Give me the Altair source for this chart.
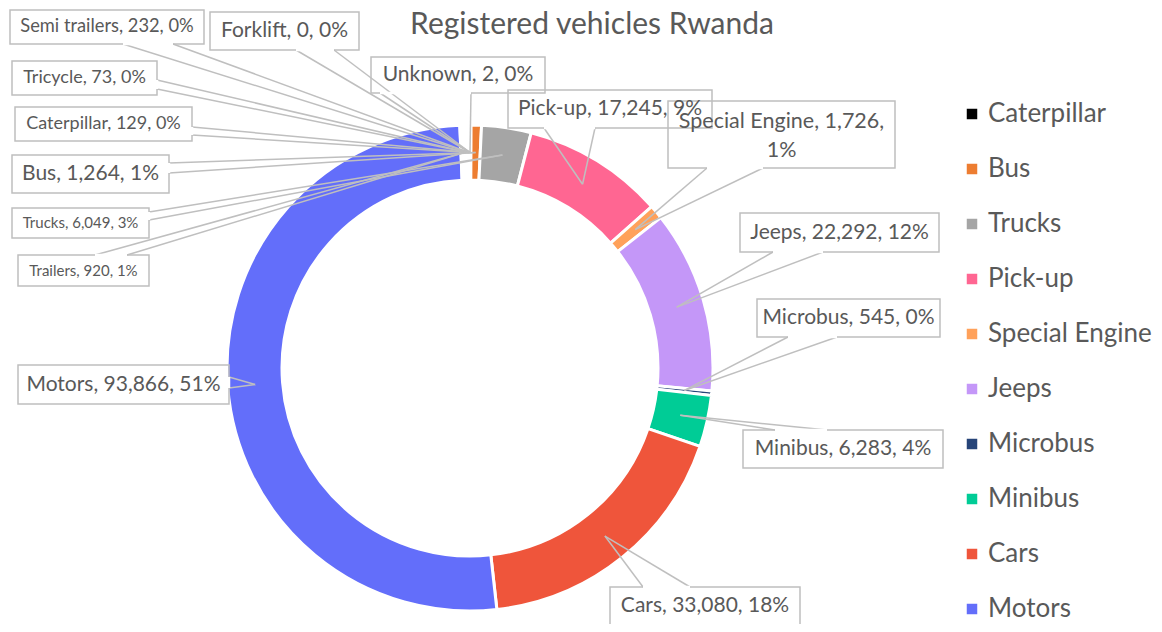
import altair as alt
import pandas as pd
import numpy as np

# ---------------- data ----------------
categories = ["Caterpillar", "Bus", "Trucks", "Pick-up", "Special Engine", "Jeeps",
              "Microbus", "Minibus", "Cars", "Motors",
              "Trailers", "Tricycle", "Semi trailers", "Forklift", "Unknown"]
values = [129, 1264, 6049, 17245, 1726, 22292, 545, 6283, 33080, 93866,
          920, 73, 232, 0, 2]
pct_labels = [0, 1, 3, 9, 1, 12, 0, 4, 18, 51, 1, 0, 0, 0, 0]
legend_items = categories[:10]

# ---------------- styles ----------------
colors = ["#000000", "#ED7D31", "#A5A5A5", "#FF6692", "#FFA15A", "#C497F8",
          "#264478", "#00CC96", "#EF553B", "#636EFA",
          "#FFFFFF", "#FFFFFF", "#FFFFFF", "#FFFFFF", "#FFFFFF"]
FONT = "Lato"
TXT = "#595959"
LINE = "#BFBFBF"
LINE_H = 29

OFF = 8
CX, CY = 470 - OFF, 368 - OFF
R_OUT, R_IN = 243, 188
R_TIP = (R_OUT + R_IN) / 2

# callout layout (page pixels): box, wedge base point 1, wedge base point 2, font size, wrap
layout = {
    "Caterpillar":    ((15, 107, 192, 141), (192, 127), (192, 135), 18, False),
    "Bus":            ((12, 155, 169, 193), (169, 163), (169, 173), 21, False),
    "Trucks":         ((12, 208, 149, 238), (149, 212), (149, 220), 15, False),
    "Pick-up":        ((508, 90, 712, 128), (544, 128), (595, 128), 21, False),
    "Special Engine": ((668, 101, 895, 168), (707, 168), (763, 168), 21.5, True),
    "Jeeps":          ((740, 213, 939, 252), (773, 252), (823, 252), 21, False),
    "Microbus":       ((757, 299, 940, 337), (788, 337), (837, 337), 21, False),
    "Minibus":        ((743, 430, 943, 468), (775, 430), (827, 430), 21, False),
    "Cars":           ((610, 587, 800, 625), (643, 587), (690, 587), 21, False),
    "Motors":         ((18, 365, 229, 404), (229, 377), (229, 388), 21, False),
    "Trailers":       ((18, 255, 149, 286), (95, 255), (127, 255), 15, False),
    "Tricycle":       ((12, 61, 157, 95), (157, 80), (157, 89), 18, False),
    "Semi trailers":  ((10, 10, 204, 44), (123, 44), (173, 44), 18.3, False),
    "Forklift":       ((210, 12, 359, 50), (296, 50), (334, 50), 21, False),
    "Unknown":        ((371, 57, 545, 93), (380, 93), (471, 93), 21, False),
}

# ---------------- tables ----------------
df = pd.DataFrame({"category": categories, "value": values, "pct": pct_labels})
df["idx"] = range(len(df))
total = df["value"].sum()
mid = (df["value"].cumsum() - df["value"] / 2) / total * 2 * np.pi
df["tx"] = CX + R_TIP * np.sin(mid)
df["ty"] = CY - R_TIP * np.cos(mid)

rule_rows, erase_rows, box_rows = [], [], []
for _, r in df.iterrows():
    (x0, y0, x1, y1), b1, b2, fs, wrap = layout[r["category"]]
    for b in (b1, b2):
        rule_rows.append({"x": b[0] - OFF, "y": b[1] - OFF, "x2": r["tx"], "y2": r["ty"]})
    erase_rows.append({"x": b1[0] - OFF, "y": b1[1] - OFF, "x2": b2[0] - OFF, "y2": b2[1] - OFF})
    head = f"{r['category']}, {r['value']:,},"
    label = f"{head}\n{r['pct']}%" if wrap else f"{head} {r['pct']}%"
    nlines = label.count("\n") + 1
    box_rows.append({"x0": x0 - OFF, "y0": y0 - OFF, "x1": x1 - OFF, "y1": y1 - OFF,
                     "cx": (x0 + x1) / 2 - OFF,
                     "cy": (y0 + y1) / 2 - OFF - (nlines - 1) * (LINE_H / 2 - 2),
                     "fs": fs, "label": label})
rules_df = pd.DataFrame(rule_rows)
erase_df = pd.DataFrame(erase_rows)
boxes_df = pd.DataFrame(box_rows)

# ---------------- chart ----------------
arc = alt.Chart(df).mark_arc(outerRadius=R_OUT, innerRadius=R_IN,
                             stroke="white", strokeWidth=3).encode(
    theta=alt.Theta("value:Q", stack=True),
    order=alt.Order("idx:Q", sort="ascending"),
    color=alt.Color("category:N",
                    scale=alt.Scale(domain=categories, range=colors),
                    legend=alt.Legend(title=None, orient="none",
                                      legendX=951, legendY=93,
                                      values=legend_items,
                                      symbolType="square", symbolSize=110,
                                      symbolStrokeWidth=0,
                                      labelFont=FONT, labelFontSize=26,
                                      labelColor=TXT, labelOffset=3,
                                      labelLimit=300,
                                      rowPadding=29, padding=0)),
    x=alt.value(CX), y=alt.value(CY),
)

def px(field):
    return alt.X(field, scale=None, axis=None)

def py(field):
    return alt.Y(field, scale=None, axis=None)

rules = alt.Chart(rules_df).mark_rule(color=LINE, strokeWidth=1.5).encode(
    x=px("x:Q"), y=py("y:Q"), x2="x2:Q", y2="y2:Q")

boxes = alt.Chart(boxes_df).mark_rect(fillOpacity=0, stroke=LINE, strokeWidth=1.5).encode(
    x=px("x0:Q"), x2="x1:Q", y=py("y0:Q"), y2="y1:Q")

erase = alt.Chart(erase_df).mark_rule(color="white", strokeWidth=2.5).encode(
    x=px("x:Q"), y=py("y:Q"), x2="x2:Q", y2="y2:Q")

texts = alt.Chart(boxes_df).mark_text(font=FONT, color=TXT, align="center",
                                      baseline="middle", lineBreak="\n",
                                      lineHeight=LINE_H).encode(
    x=px("cx:Q"), y=py("cy:Q"), text="label:N",
    size=alt.Size("fs:Q", scale=None, legend=None))

title = alt.Chart(pd.DataFrame({"t": ["Registered vehicles Rwanda"]})).mark_text(
    font=FONT, fontSize=30, color=TXT, align="center", baseline="alphabetic").encode(
    x=alt.value(592 - OFF), y=alt.value(34 - OFF), text="t:N")

chart = alt.layer(arc, rules, boxes, erase, texts, title).properties(
    width=1146, height=616, autosize="none", padding=0
).configure_view(stroke=None)

chart.save("out.html", embed_options={"renderer": "svg", "actions": False})
